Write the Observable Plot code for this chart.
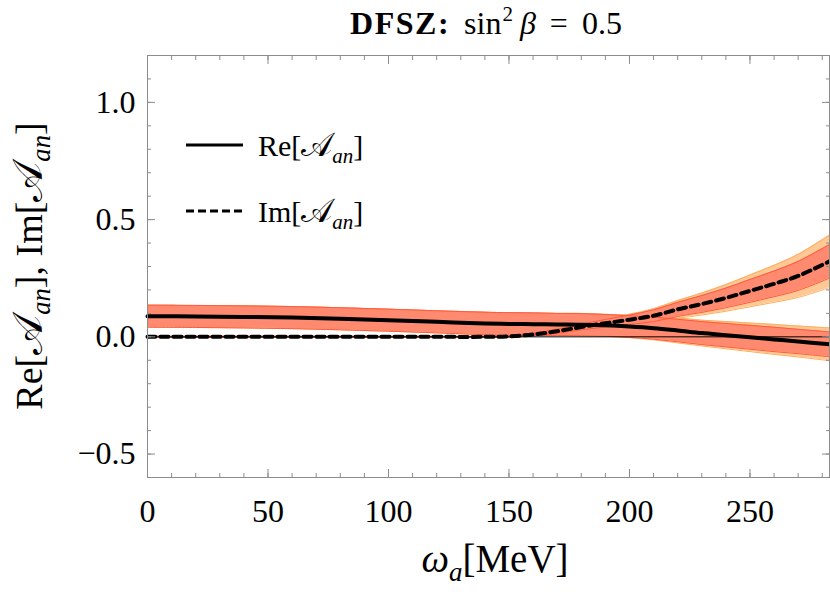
<!DOCTYPE html>
<html><head><meta charset="utf-8">
<script src="https://cdn.jsdelivr.net/npm/d3@7"></script>
<script src="https://cdn.jsdelivr.net/npm/@observablehq/plot@0.6"></script>
<style>body{margin:0;background:#fff}</style>
</head><body><div id="chart"></div>
<script>
// ω_a in MeV
const omega = [0, 20, 40, 60, 80, 100, 120, 140, 150, 160, 170, 180, 190, 200, 210, 220, 230, 240, 250, 260, 270, 283];
// Re[A_an] central values
const reCentral = [0.088, 0.087, 0.085, 0.082, 0.077, 0.071, 0.064, 0.057, 0.055, 0.054, 0.053, 0.052, 0.049, 0.044, 0.037, 0.027, 0.016, 0.007, -0.002, -0.011, -0.020, -0.032];
// inner (red) band half width of Re
const reRedHalf = [0.047, 0.047, 0.047, 0.047, 0.047, 0.047, 0.047, 0.048, 0.048, 0.048, 0.047, 0.047, 0.046, 0.046, 0.047, 0.048, 0.049, 0.050, 0.051, 0.052, 0.052, 0.053];
// extra width of the outer (orange) band of Re
const reOrangeExtra = [0, 0, 0, 0, 0, 0, 0, 0, 0, 0, 0, 0.001, 0.001, 0.002, 0.003, 0.005, 0.006, 0.008, 0.010, 0.012, 0.014, 0.017];
// Im[A_an] central values
const imCentral = [0, 0, 0, 0, 0, 0, 0, 0, 0.002, 0.010, 0.024, 0.042, 0.058, 0.073, 0.090, 0.117, 0.140, 0.166, 0.196, 0.226, 0.260, 0.322];
const imRedHalf = [0.002, 0.002, 0.002, 0.002, 0.002, 0.002, 0.002, 0.002, 0.004, 0.006, 0.009, 0.012, 0.016, 0.020, 0.025, 0.030, 0.036, 0.042, 0.049, 0.055, 0.062, 0.072];
const imOrangeExtra = [0, 0, 0, 0, 0, 0, 0, 0, 0, 0, 0.001, 0.002, 0.002, 0.003, 0.005, 0.008, 0.011, 0.015, 0.019, 0.024, 0.030, 0.040];

const xMajorTicks = [0, 50, 100, 150, 200, 250];
const xMinorTicks = d3.range(0, 281, 10);
const yMajorTicks = [-0.5, 0.0, 0.5, 1.0];
const yMinorTicks = d3.range(-6, 13).map(d => d / 10);
const xDomain = [0, 283];
const yDomain = [-0.6, 1.2];

const rows = omega.map((w, i) => ({
  w,
  re: reCentral[i],
  reRLo: reCentral[i] - reRedHalf[i], reRHi: reCentral[i] + reRedHalf[i],
  reOLo: reCentral[i] - reRedHalf[i] - reOrangeExtra[i], reOHi: reCentral[i] + reRedHalf[i] + reOrangeExtra[i],
  im: imCentral[i],
  imRLo: imCentral[i] - imRedHalf[i], imRHi: imCentral[i] + imRedHalf[i],
  imOLo: imCentral[i] - imRedHalf[i] - imOrangeExtra[i], imOHi: imCentral[i] + imRedHalf[i] + imOrangeExtra[i]
}));

const orangeFill = "#ffc995", orangeEdge = "#ffad5c";
const redFill = "#ff8a70", redEdge = "#ff5a3c";
const tickColor = "#8c8c8c";
const serif = "'Liberation Serif', 'DejaVu Serif', serif";
const curve = "catmull-rom";

const plot = Plot.plot({
  width: 830, height: 592,
  marginLeft: 147, marginRight: 1, marginTop: 55, marginBottom: 115,
  style: {fontFamily: serif, fontSize: "32px", color: "black", background: "white"},
  x: {domain: xDomain},
  y: {domain: yDomain},
  marks: [
    Plot.areaY(rows, {x: "w", y1: "reOLo", y2: "reOHi", fill: orangeFill, curve}),
    Plot.areaY(rows, {x: "w", y1: "imOLo", y2: "imOHi", fill: orangeFill, curve}),
    Plot.lineY(rows, {x: "w", y: "reOLo", stroke: orangeEdge, strokeWidth: 1, curve}),
    Plot.lineY(rows, {x: "w", y: "reOHi", stroke: orangeEdge, strokeWidth: 1, curve}),
    Plot.lineY(rows, {x: "w", y: "imOLo", stroke: orangeEdge, strokeWidth: 1, curve}),
    Plot.lineY(rows, {x: "w", y: "imOHi", stroke: orangeEdge, strokeWidth: 1, curve}),
    Plot.areaY(rows, {x: "w", y1: "reRLo", y2: "reRHi", fill: redFill, curve}),
    Plot.areaY(rows, {x: "w", y1: "imRLo", y2: "imRHi", fill: redFill, curve}),
    Plot.lineY(rows, {x: "w", y: "reRLo", stroke: redEdge, strokeWidth: 1, curve}),
    Plot.lineY(rows, {x: "w", y: "reRHi", stroke: redEdge, strokeWidth: 1, curve}),
    Plot.lineY(rows, {x: "w", y: "imRLo", stroke: redEdge, strokeWidth: 1, curve}),
    Plot.lineY(rows, {x: "w", y: "imRHi", stroke: redEdge, strokeWidth: 1, curve}),
    Plot.ruleY([0], {stroke: "black", strokeWidth: 1}),
    Plot.lineY(rows, {x: "w", y: "re", stroke: "black", strokeWidth: 4, curve}),
    Plot.lineY(rows, {x: "w", y: "im", stroke: "black", strokeWidth: 4, strokeDasharray: "8,5", curve}),
    Plot.frame({stroke: tickColor, strokeWidth: 1}),
    // inward ticks on all four sides
    Plot.axisX({ticks: xMajorTicks, anchor: "bottom", tickSize: -8, fill: "none", label: null, stroke: tickColor}),
    Plot.axisX({ticks: xMinorTicks, anchor: "bottom", tickSize: -4, fill: "none", label: null, stroke: tickColor}),
    Plot.axisX({ticks: xMajorTicks, anchor: "top", tickSize: -8, fill: "none", label: null, stroke: tickColor}),
    Plot.axisX({ticks: xMinorTicks, anchor: "top", tickSize: -4, fill: "none", label: null, stroke: tickColor}),
    Plot.axisY({ticks: yMajorTicks, anchor: "left", tickSize: -8, fill: "none", label: null, stroke: tickColor}),
    Plot.axisY({ticks: yMinorTicks, anchor: "left", tickSize: -4, fill: "none", label: null, stroke: tickColor}),
    Plot.axisY({ticks: yMajorTicks, anchor: "right", tickSize: -8, fill: "none", label: null, stroke: tickColor}),
    Plot.axisY({ticks: yMinorTicks, anchor: "right", tickSize: -4, fill: "none", label: null, stroke: tickColor}),
    // tick labels
    Plot.axisX({ticks: xMajorTicks, anchor: "bottom", tickSize: 0, tickPadding: 22, label: null, fontSize: 32, tickFormat: d3.format("d")}),
    Plot.axisY({ticks: yMajorTicks, anchor: "left", tickSize: 0, tickPadding: 12, label: null, fontSize: 32, tickFormat: d3.format(".1f")})
  ]
});
document.getElementById("chart").appendChild(plot);

const svg = d3.select(plot);
const A = "\u{1D49C}";
function mathLabel(g, size, prefix) {
  g.append("tspan").text(prefix + "[");
  g.append("tspan").attr("font-size", size * 1.1).text(A);
  g.append("tspan").attr("font-style", "italic").attr("font-size", size * 0.7).attr("dy", size * 0.22).text("an");
  g.append("tspan").attr("dy", -size * 0.22).text("]");
}
// Title
const t = svg.append("text").attr("x", 486).attr("y", 34).attr("text-anchor", "middle")
  .attr("font-family", serif).attr("font-size", 32).attr("fill", "black");
t.append("tspan").attr("font-weight", "bold").attr("letter-spacing", 1.5).text("DFSZ:");
t.append("tspan").attr("dx", 14).text("sin");
t.append("tspan").attr("font-size", 21).attr("dy", -13).attr("dx", 1).text("2");
t.append("tspan").attr("dy", 13).attr("dx", 7).attr("font-style", "italic").text("β");
t.append("tspan").attr("dx", 14).text("=");
t.append("tspan").attr("dx", 14).text("0.5");

// Y label
const ys = 38;
const yl = svg.append("text").attr("transform", "translate(42,266) rotate(-90)").attr("text-anchor", "middle")
  .attr("font-family", serif).attr("font-size", ys).attr("fill", "black");
yl.append("tspan").text("Re[");
yl.append("tspan").attr("font-size", ys * 1.1).text(A);
yl.append("tspan").attr("font-style", "italic").attr("font-size", ys * 0.7).attr("dy", ys * 0.22).text("an");
yl.append("tspan").attr("dy", -ys * 0.22).text("], Im[");
yl.append("tspan").attr("font-size", ys * 1.1).text(A);
yl.append("tspan").attr("font-style", "italic").attr("font-size", ys * 0.7).attr("dy", ys * 0.22).text("an");
yl.append("tspan").attr("dy", -ys * 0.22).text("]");

// X label
const xl = svg.append("text").attr("x", 495).attr("y", 572).attr("text-anchor", "middle")
  .attr("font-family", serif).attr("font-size", 39).attr("fill", "black");
xl.append("tspan").attr("font-style", "italic").text("ω");
xl.append("tspan").attr("font-style", "italic").attr("font-size", 27).attr("dy", 9).text("a");
xl.append("tspan").attr("dy", -9).text("[MeV]");

// Legend
const lg = svg.append("g");
lg.append("line").attr("x1", 186).attr("x2", 243).attr("y1", 145).attr("y2", 145).attr("stroke", "black").attr("stroke-width", 3);
lg.append("line").attr("x1", 186).attr("x2", 243).attr("y1", 211).attr("y2", 211).attr("stroke", "black").attr("stroke-width", 3).attr("stroke-dasharray", "8,4");
mathLabel(lg.append("text").attr("x", 258).attr("y", 156).attr("text-anchor", "start").attr("font-family", serif).attr("font-size", 30), 30, "Re");
mathLabel(lg.append("text").attr("x", 258).attr("y", 222).attr("text-anchor", "start").attr("font-family", serif).attr("font-size", 30), 30, "Im");
</script>
</body></html>
